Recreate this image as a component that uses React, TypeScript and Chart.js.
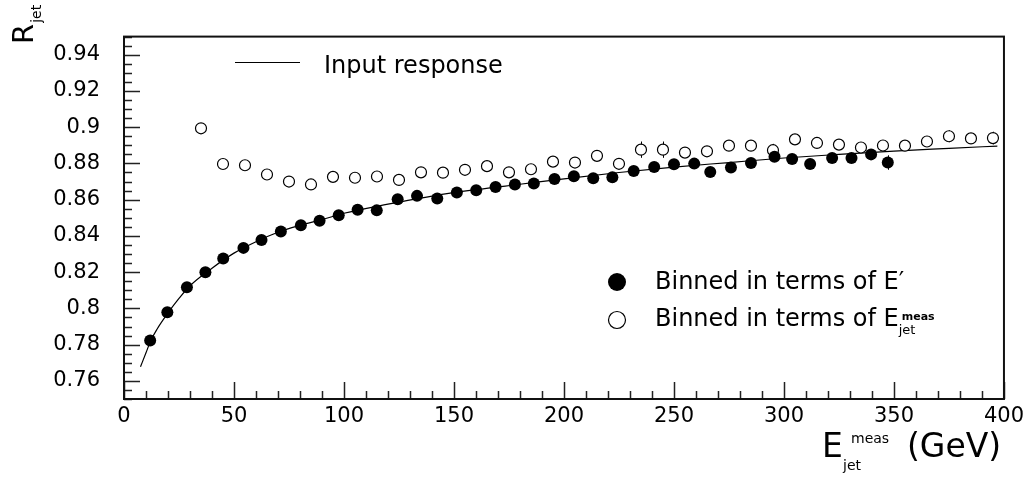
import React, { useEffect, useRef } from "react";
import { Chart, registerables } from "chart.js";

Chart.register(...registerables);

const FONT = "'DejaVu Sans', 'Liberation Sans', sans-serif";

// Binned in terms of E'
const filledX = [11.9, 19.7, 28.6, 37.0, 45.1, 54.3, 62.5, 71.3, 80.4, 88.9, 97.6, 106.2, 114.9, 124.4, 133.2, 142.4, 151.3, 160.1, 168.9, 177.7, 186.3, 195.7, 204.5, 213.3, 222.0, 231.7, 241.0, 250.0, 259.2, 266.5, 275.9, 285.0, 295.7, 303.7, 311.9, 321.9, 330.7, 339.6, 347.2];
const filledY = [0.7823, 0.7979, 0.8117, 0.8199, 0.8275, 0.8334, 0.8378, 0.8425, 0.8459, 0.8484, 0.8514, 0.8544, 0.8541, 0.8603, 0.8621, 0.8607, 0.864, 0.8652, 0.867, 0.8684, 0.8689, 0.8714, 0.8729, 0.8718, 0.8724, 0.8758, 0.878, 0.8795, 0.8799, 0.8753, 0.8778, 0.8803, 0.8837, 0.8825, 0.8797, 0.883, 0.883, 0.885, 0.8805];
const filledErr = [0, 0, 0, 0, 0, 0, 0, 0, 0, 0, 0, 0, 0, 0, 0, 0, 0, 0, 0, 0, 0, 0, 0, 0, 0, 0, 0, 0, 0, 0, 0, 0, 0, 0, 0, 0, 0, 0, 0.004];

// Binned in terms of E_jet^meas
const openX = [35, 45, 55, 65, 75, 85, 95, 105, 115, 125, 135, 145, 155, 165, 175, 185, 195, 205, 215, 225, 235, 245, 255, 265, 275, 285, 295, 305, 315, 325, 335, 345, 355, 365, 375, 385, 395];
const openY = [0.8994, 0.8797, 0.879, 0.8739, 0.87, 0.8684, 0.8726, 0.8721, 0.8728, 0.8709, 0.8751, 0.8749, 0.8765, 0.8785, 0.8751, 0.8768, 0.881, 0.8805, 0.8842, 0.8798, 0.8876, 0.8876, 0.886, 0.8867, 0.8898, 0.8898, 0.8873, 0.8933, 0.8913, 0.8904, 0.8888, 0.8899, 0.8898, 0.8921, 0.895, 0.8938, 0.894];
const openErr = [0, 0, 0, 0, 0, 0, 0, 0, 0, 0, 0, 0, 0, 0, 0, 0, 0, 0, 0, 0, 0.0045, 0.0045, 0, 0, 0, 0, 0.0035, 0, 0, 0, 0, 0, 0, 0, 0.0033, 0, 0.0035];

// Input response curve
const curveX = [7.5, 10, 12, 15, 20, 25, 30, 40, 50, 60, 70, 80, 90, 100, 120, 140, 160, 180, 200, 225, 250, 275, 300, 325, 350, 375, 397];
const curveY = [0.7678, 0.7755, 0.7818, 0.7885, 0.7975, 0.8055, 0.8125, 0.8222, 0.8305, 0.8368, 0.842, 0.8458, 0.849, 0.8525, 0.8575, 0.862, 0.8655, 0.8685, 0.8715, 0.875, 0.878, 0.8805, 0.883, 0.885, 0.8868, 0.8883, 0.8896];

const xTickValues = [0, 50, 100, 150, 200, 250, 300, 350, 400];
const yTickValues = [0.76, 0.78, 0.8, 0.82, 0.84, 0.86, 0.88, 0.9, 0.92, 0.94];
const xMinorStep = 10;
const yMinorStep = 0.005;

const toPts = (xs: number[], ys: number[]) => xs.map((x, i) => ({ x, y: ys[i] }));

const errorBarPlugin = {
  id: "errbars",
  beforeDatasetsDraw(chart: any) {
    const ctx: CanvasRenderingContext2D = chart.ctx;
    const xs = chart.scales.x;
    const ys = chart.scales.y;
    ctx.save();
    ctx.strokeStyle = "#000";
    ctx.lineWidth = 1;
    ctx.beginPath();
    const draw = (X: number[], Y: number[], E: number[]) => {
      X.forEach((x, i) => {
        if (!E[i]) return;
        const px = Math.round(xs.getPixelForValue(x)) + 0.5;
        ctx.moveTo(px, ys.getPixelForValue(Y[i] - E[i]));
        ctx.lineTo(px, ys.getPixelForValue(Y[i] + E[i]));
      });
    };
    draw(filledX, filledY, filledErr);
    draw(openX, openY, openErr);
    ctx.stroke();
    ctx.restore();
  },
};

const decorPlugin = {
  id: "decor",
  afterDraw(chart: any) {
    const ctx: CanvasRenderingContext2D = chart.ctx;
    const { left, right, top, bottom } = chart.chartArea;
    const xs = chart.scales.x;
    const ys = chart.scales.y;
    ctx.save();
    // ticks
    ctx.strokeStyle = "#222";
    ctx.lineWidth = 1.5;
    ctx.beginPath();
    for (let v = xs.min; v <= xs.max + 1e-9; v += xMinorStep) {
      const px = Math.round(xs.getPixelForValue(v)) + 0.5;
      const major = Math.abs(v / 50 - Math.round(v / 50)) < 1e-6;
      const len = major ? 17 : 8;
      ctx.moveTo(px, bottom);
      ctx.lineTo(px, bottom - len);
    }
    for (let v = ys.min; v <= ys.max + 1e-9; v += yMinorStep) {
      const py = Math.round(ys.getPixelForValue(v)) + 0.5;
      const major = yTickValues.some((t) => Math.abs(t - v) < 1e-6);
      const len = major ? 16 : 8;
      ctx.moveTo(left, py);
      ctx.lineTo(left + len, py);
    }
    ctx.stroke();
    // frame
    ctx.strokeStyle = "#111";
    ctx.lineWidth = 2;
    ctx.strokeRect(left, top, right - left, bottom - top);

    ctx.fillStyle = "#000";
    ctx.textBaseline = "alphabetic";
    ctx.textAlign = "left";

    // X axis title: E_jet^meas (GeV)
    ctx.font = `33px ${FONT}`;
    ctx.fillText("E", 822, 457);
    ctx.font = `14px ${FONT}`;
    ctx.fillText("jet", 843, 470);
    ctx.fillText("meas", 851, 443);
    ctx.font = `33px ${FONT}`;
    ctx.fillText("(GeV)", 907, 457);

    // Y axis title: R_jet (rotated)
    ctx.save();
    ctx.translate(33, 44);
    ctx.rotate(-Math.PI / 2);
    ctx.font = `29px ${FONT}`;
    ctx.fillText("R", 0, 0);
    const rw = ctx.measureText("R").width;
    ctx.font = `14px ${FONT}`;
    ctx.fillText("jet", rw + 1, 8);
    ctx.restore();

    // Legend: Input response
    ctx.strokeStyle = "#000";
    ctx.lineWidth = 1;
    ctx.beginPath();
    ctx.moveTo(235, 62.5);
    ctx.lineTo(300, 62.5);
    ctx.stroke();
    ctx.font = `24px ${FONT}`;
    ctx.fillText("Input response", 324, 73);

    // Legend: filled
    ctx.beginPath();
    ctx.arc(617, 282, 9, 0, Math.PI * 2);
    ctx.fill();
    const base = "Binned in terms of ";
    ctx.font = `24px ${FONT}`;
    ctx.fillText(base + "E\u2032", 655, 289);

    // Legend: open
    ctx.beginPath();
    ctx.arc(617, 320, 8.5, 0, Math.PI * 2);
    ctx.fillStyle = "#fff";
    ctx.fill();
    ctx.lineWidth = 1.2;
    ctx.stroke();
    ctx.fillStyle = "#000";
    ctx.fillText(base + "E", 655, 326);
    const bw = ctx.measureText(base + "E").width;
    ctx.font = `13px ${FONT}`;
    ctx.fillText("jet", 655 + bw, 334);
    ctx.font = `bold 11px ${FONT}`;
    ctx.fillText("meas", 655 + bw + 3, 320);

    ctx.restore();
  },
};

export default function App() {
  const ref = useRef<HTMLCanvasElement>(null);
  useEffect(() => {
    const chart = new Chart(ref.current as HTMLCanvasElement, {
      type: "scatter",
      data: {
        datasets: [
          {
            type: "line",
            label: "Input response",
            data: toPts(curveX, curveY),
            borderColor: "#000",
            borderWidth: 1.2,
            pointRadius: 0,
            fill: false,
            cubicInterpolationMode: "monotone",
            order: 3,
          } as any,
          {
            label: "Binned in terms of E'",
            data: toPts(filledX, filledY),
            backgroundColor: "#000",
            borderColor: "#000",
            pointRadius: 6,
            borderWidth: 0,
            order: 1,
          },
          {
            label: "Binned in terms of E_jet^meas",
            data: toPts(openX, openY),
            backgroundColor: "#fff",
            borderColor: "#000",
            pointRadius: 5.5,
            borderWidth: 1.2,
            order: 2,
          },
        ],
      },
      options: {
        responsive: false,
        animation: false,
        layout: { padding: { top: 3, right: 23, left: 0, bottom: 0 } },
        plugins: { legend: { display: false }, tooltip: { enabled: false } },
        scales: {
          x: {
            type: "linear",
            min: 0,
            max: 400,
            afterBuildTicks: (s: any) => {
              s.ticks = xTickValues.map((v) => ({ value: v }));
            },
            afterFit: (s: any) => {
              s.height = 82;
            },
            ticks: {
              font: { family: FONT, size: 21 },
              color: "#000",
              padding: 5,
              maxRotation: 0,
              autoSkip: false,
              callback: (v: any) => String(v),
            },
            grid: { display: false, drawTicks: false },
            border: { display: false },
          },
          y: {
            type: "linear",
            min: 0.75,
            max: 0.95,
            afterBuildTicks: (s: any) => {
              s.ticks = yTickValues.map((v) => ({ value: v }));
            },
            afterFit: (s: any) => {
              s.width = 124;
            },
            ticks: {
              font: { family: FONT, size: 21 },
              color: "#000",
              padding: 24,
              autoSkip: false,
              callback: (v: any) => String(parseFloat(Number(v).toFixed(2))),
            },
            grid: { display: false, drawTicks: false },
            border: { display: false },
          },
        },
      },
      plugins: [errorBarPlugin, decorPlugin],
    });
    return () => chart.destroy();
  }, []);
  return (
    <div style={{ position: "absolute", left: 0, top: 0, width: 1029, height: 481, background: "#fff" }}>
      <canvas ref={ref} width={1029} height={481} style={{ width: 1029, height: 481, display: "block" }} />
    </div>
  );
}
